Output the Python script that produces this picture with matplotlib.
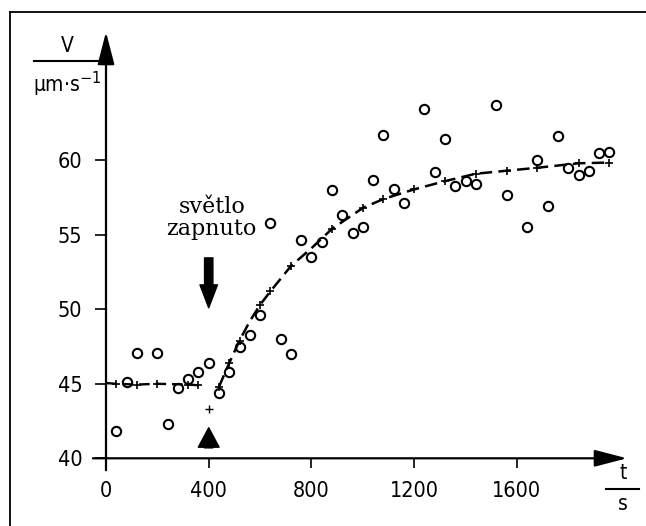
import matplotlib.pyplot as plt
from matplotlib.lines import Line2D
import numpy as np

# measured points (open circles)
t_meas = [40, 80, 120, 200, 240, 280, 320, 360, 400, 440, 480, 520, 560, 600,
          640, 680, 720, 760, 800, 840, 880, 920, 960, 1000, 1040, 1080, 1120,
          1160, 1240, 1280, 1320, 1360, 1400, 1440, 1520, 1560, 1640, 1680,
          1720, 1760, 1800, 1840, 1880, 1920, 1960]
v_meas = [41.8, 45.1, 47.1, 47.1, 42.3, 44.7, 45.3, 45.8, 46.4, 44.4, 45.8,
          47.5, 48.3, 49.6, 55.8, 48.0, 47.0, 54.65, 53.5, 54.5, 58.0, 56.3,
          55.15, 55.5, 58.7, 61.7, 58.05, 57.15, 63.45, 59.2, 61.4, 58.3, 58.6,
          58.4, 63.7, 57.7, 55.5, 60.0, 56.9, 61.65, 59.45, 59.0, 59.3, 60.5,
          60.55]

# smoothed curve, before light on
t_dark = [0, 40, 120, 200, 320, 360]
v_dark = [45.05, 45.0, 44.95, 45.0, 44.95, 44.9]

# single point at switch-on
t_on = [400]
v_on = [43.3]

# smoothed curve, after light on
t_light = [440, 480, 520, 560, 600, 640, 720, 800, 880, 1000, 1080, 1200,
           1320, 1440, 1560, 1680, 1840, 1960]
v_light = [44.8, 46.4, 47.9, 49.2, 50.3, 51.2, 52.9, 54.1, 55.4, 56.8, 57.4,
           58.05, 58.6, 59.1, 59.3, 59.5, 59.8, 59.85]

xticks = [0, 400, 800, 1200, 1600]
yticks = [40, 45, 50, 55, 60]

W, H = 646, 526
fig = plt.figure(figsize=(W / 100, H / 100), dpi=100)
fig.patch.set_facecolor('white')

x0, x1 = 106, 627
y0, y1 = 458.3, 32
ax = fig.add_axes([x0 / W, 1 - y0 / H, (x1 - x0) / W, (y0 - y1) / H])
ax.set_xlim(0, (x1 - x0) / 0.2568)
ax.set_ylim(40, 40 + (y0 - y1) / 14.9)
ax.patch.set_alpha(0)
for s in ax.spines.values():
    s.set_visible(False)

tickfont = dict(family='DejaVu Sans', stretch='condensed', size=15.5)
ax.set_xticks(xticks)
ax.set_yticks(yticks)
ax.set_xticklabels([str(v) for v in xticks], fontdict=tickfont)
ax.set_yticklabels([str(v) for v in yticks], fontdict=tickfont)
ax.tick_params(direction='out', length=8, width=1.2, pad=9, colors='k')
ax.tick_params(axis='x', length=7)

# axes with arrow heads
arr = dict(arrowstyle='-|>,head_length=1.0,head_width=0.26', lw=1.6,
           color='k', mutation_scale=20, shrinkA=0, shrinkB=0)
ax.annotate('', xy=(1, 0), xytext=(-0.025, 0), xycoords='axes fraction',
            textcoords='axes fraction', arrowprops=arr)
ax.annotate('', xy=(0, 1), xytext=(0, -0.028), xycoords='axes fraction',
            textcoords='axes fraction', arrowprops=arr)

ax.plot(t_dark, v_dark, color='k', lw=1.7, dashes=(4.5, 2.5), marker='+',
        ms=6, mew=1.2, markevery=list(range(1, len(t_dark))), clip_on=False)
ax.plot(t_on, v_on, ls='none', color='k', marker='+', ms=6, mew=1.0)
skip = [3, 7]
ax.plot(t_light, v_light, color='k', lw=1.8, dashes=(5, 2.5), marker='+',
        ms=6, mew=1.2,
        markevery=[i for i in range(len(t_light)) if i not in skip])
ax.plot(t_meas, v_meas, ls='none', marker='o', ms=6.7, mfc='none',
        mec='k', mew=1.5, clip_on=False)

# light switched on
ax.annotate('', xy=(400, 50.1), xytext=(400, 53.45),
            arrowprops=dict(arrowstyle='simple,head_length=0.55,head_width=0.42,tail_width=0.2',
                            fc='k', ec='k', mutation_scale=30, shrinkA=0, shrinkB=0))
ax.annotate('', xy=(400, 42.05), xytext=(400, 40.7),
            arrowprops=dict(arrowstyle='simple,head_length=0.7,head_width=0.75,tail_width=0.3',
                            fc='k', ec='k', mutation_scale=20, shrinkA=0, shrinkB=0))
ax.text(412, 56.1, 'světlo\nzapnuto', ha='center', va='center',
        family='DejaVu Serif', size=16, linespacing=1.0)

# unit labels as fractions
labfont = dict(family='DejaVu Sans', stretch='condensed', size=15)
fig.text(67 / W, 1 - 46 / H, 'V', ha='center', va='center', **labfont)
fig.add_artist(Line2D([34 / W, 100 / W], [1 - 61 / H, 1 - 61 / H], color='k', lw=1.5))
fig.text(67 / W, 1 - 84 / H, 'µm·s$^{-1}$', ha='center', va='center', **labfont)

fig.text(623 / W, 1 - 473 / H, 't', ha='center', va='center', **labfont)
fig.add_artist(Line2D([606 / W, 639 / W], [1 - 489 / H, 1 - 489 / H], color='k', lw=1.5))
fig.text(623 / W, 1 - 504 / H, 's', ha='center', va='center', **labfont)

# scan frame
fig.add_artist(Line2D([10 / W, 10 / W], [0, 1 - 12 / H], color='k', lw=1.3))
fig.add_artist(Line2D([10 / W, 1], [1 - 12 / H, 1 - 12 / H], color='k', lw=1.3))

fig.savefig('out.png', dpi=100)
